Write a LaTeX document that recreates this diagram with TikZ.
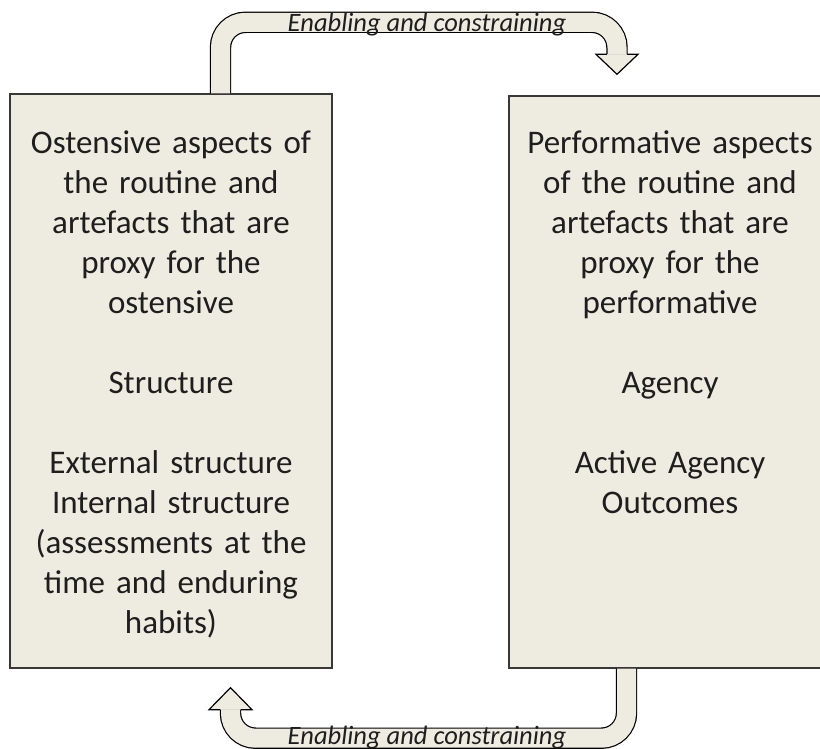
\documentclass[tikz,border=0pt]{standalone}
\usepackage{fontspec}
\setmainfont{Carlito}
\usepackage{tikz}
\usetikzlibrary{calc}
\definecolor{tanfill}{RGB}{238,236,225}
\definecolor{inkgray}{RGB}{30,30,30}

\begin{document}
\begin{tikzpicture}[x=1pt,y=1pt,yscale=-1,xscale=1,
    routinebox/.style={draw=black!78,line width=1.4pt,fill=tanfill,minimum width=322pt,
      text width=310pt,align=center,inner sep=0pt,text=inkgray,
      font=\fontsize{33}{40}\selectfont},
    band/.style={draw=black,line width=1.2pt,double=tanfill,double distance=19pt,rounded corners=25pt},
    bandhead/.style={draw=black,line width=1.2pt,fill=tanfill,line join=miter},
    bandtext/.style={anchor=base,text=inkgray,font=\fontsize{26.5}{30}\selectfont\itshape}]
      \clip (0,0) rectangle (820,749);
      % the two boxes
      \node[routinebox,minimum height=574pt] (ostensive) at (171,381)
        {\rule{0pt}{29pt}Ostensive aspects of\\ the routine and\\ artefacts that are\\ proxy for the\\ ostensive\\[40pt]
         Structure\\[40pt]
         External structure\\ Internal structure\\ (assessments at the\\ time and enduring\\ habits)};
      \node[routinebox,minimum height=572pt] (performative) at (670,382)
        {Performative aspects\\ of the routine and\\ artefacts that are\\ proxy for the\\ performative\\[40pt]
         Agency\\[40pt]
         Active Agency\\ Outcomes\\ ~\\ ~\\ ~};
      % upper connector
      \coordinate (upstart) at ($(ostensive.north)+(49.5,0)$);
      \coordinate (upend) at ($(performative.north)+(-53,-41)$);
      \coordinate (uptip) at ($(performative.north)+(-53,-21)$);
      \draw[band] (upstart) |- ($(upend)+(0,-32)$) -- (upend);
      \draw[bandhead] ($(upend)+(-10.1,0)$) -- ($(upend)+(-21,0)$) -- (uptip)
            -- ($(upend)+(21,0)$) -- ($(upend)+(10.1,0)$);
      \node[bandtext] (uplabel) at (427,32) {Enabling and constraining};
      % lower connector
      \coordinate (downstart) at ($(performative.south)+(-43.5,0)$);
      \coordinate (downend) at ($(ostensive.south)+(59.5,41)$);
      \coordinate (downtip) at ($(ostensive.south)+(59.5,19)$);
      \draw[band] (downstart) |- ($(downend)+(0,28.5)$) -- (downend);
      \draw[bandhead] ($(downend)+(-10.1,0)$) -- ($(downend)+(-21.5,0)$) -- (downtip)
            -- ($(downend)+(21.5,0)$) -- ($(downend)+(10.1,0)$);
      \node[bandtext] (downlabel) at (427,744) {Enabling and constraining};
    \end{tikzpicture}
\end{document}
